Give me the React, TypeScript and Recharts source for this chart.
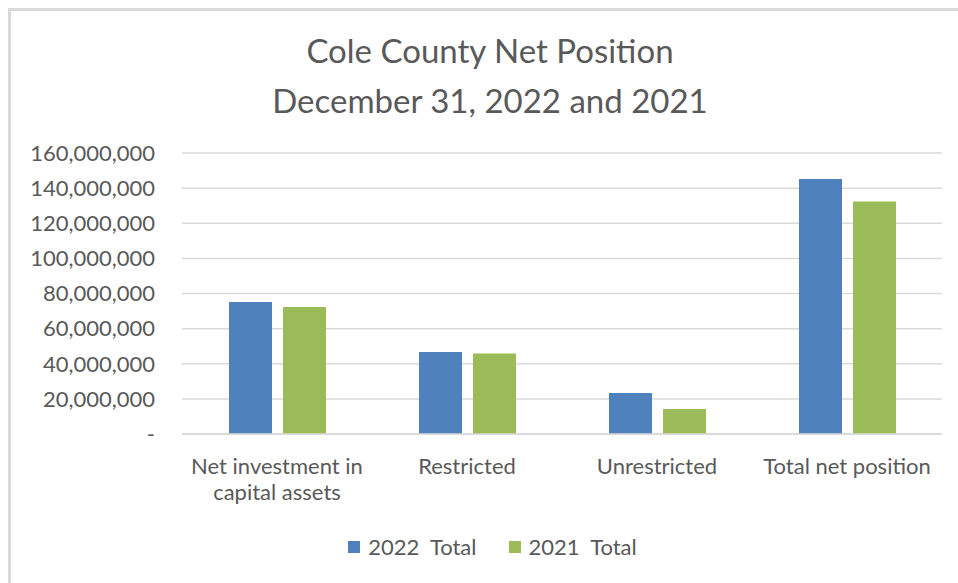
import { BarChart, Bar, XAxis, YAxis, CartesianGrid, Legend } from 'recharts';

// Values (dollars).
const CATEGORIES = [
  'Net investment in capital assets',
  'Restricted',
  'Unrestricted',
  'Total net position',
];
const TOTAL_2022 = [75200000, 46700000, 23300000, 145200000];
const TOTAL_2021 = [72300000, 45800000, 14300000, 132400000];
const Y_TICKS = [0, 20000000, 40000000, 60000000, 80000000, 100000000, 120000000, 140000000, 160000000];

const SERIES = [
  { key: '2022 Total', values: TOTAL_2022, color: '#4f81bd' },
  { key: '2021 Total', values: TOTAL_2021, color: '#9bbb59' },
];

const data = CATEGORIES.map((name, i) => {
  const row: Record<string, string | number> = { name };
  SERIES.forEach((s) => { row[s.key] = s.values[i]; });
  return row;
});

const FONT = 'Lato, "Open Sans", sans-serif';
const TEXT = '#595959';
const GRID = '#d9d9d9';
const W = 947;
const H = 572;

// no scrollbars: the frame runs right up to the edges of the window
document.documentElement.style.overflow = 'hidden';
document.body.style.margin = '0';

function wrap(label: string, max = 18): string[] {
  const lines: string[] = [];
  let cur = '';
  for (const w of label.split(' ')) {
    const next = cur ? cur + ' ' + w : w;
    if (next.length > max && cur) {
      lines.push(cur);
      cur = w;
    } else {
      cur = next;
    }
  }
  if (cur) lines.push(cur);
  return lines;
}

function CategoryTick({ x, y, payload }: any) {
  const lines = wrap(String(payload.value));
  return (
    <text x={x} y={y + 32} textAnchor="middle" fill={TEXT} fontSize={22} fontFamily={FONT}>
      {lines.map((l, i) => (
        <tspan key={i} x={x} dy={i === 0 ? 0 : 26}>{l}</tspan>
      ))}
    </text>
  );
}

function LegendBox() {
  return (
    <div style={{ display: 'flex', justifyContent: 'center', gap: 32, fontFamily: FONT, fontSize: 22, color: TEXT, marginLeft: 16 }}>
      {SERIES.map((s) => (
        <div key={s.key} style={{ display: 'flex', alignItems: 'center' }}>
          <span style={{ width: 12, height: 12, background: s.color, display: 'inline-block', marginRight: 8 }} />
          <span style={{ whiteSpace: 'pre' }}>{s.key.replace(' ', '  ')}</span>
        </div>
      ))}
    </div>
  );
}

export default function App() {
  return (
    <div style={{ position: 'relative', width: W, height: H, marginLeft: 8, marginTop: 8, borderLeft: `3px solid ${GRID}`, borderTop: `3px solid ${GRID}`, background: '#fff', overflow: 'hidden' }}>
      <div style={{ position: 'absolute', top: 14, left: 0, width: 958, textAlign: 'center', fontFamily: FONT, fontSize: 33, lineHeight: '50px', color: TEXT }}>
        <div>Cole County Net Position</div>
        <div>December 31, 2022 and 2021</div>
      </div>
      <BarChart
        width={W}
        height={H}
        data={data}
        margin={{ top: 142, right: 16, bottom: 39, left: 0 }}
        barGap={11}
        barSize={43}
      >
        <CartesianGrid vertical={false} stroke={GRID} strokeWidth={1.5} />
        <XAxis
          dataKey="name"
          tick={<CategoryTick />}
          tickLine={false}
          axisLine={{ stroke: GRID, strokeWidth: 1.5 }}
          height={80}
          interval={0}
        />
        <YAxis
          width={171}
          domain={[0, 160000000]}
          ticks={Y_TICKS}
          tickFormatter={(v: number) => (v === 0 ? '-' : v.toLocaleString('en-US'))}
          tick={{ fill: TEXT, fontSize: 22, fontFamily: FONT }}
          tickLine={false}
          axisLine={false}
          tickMargin={21}
        />
        <Legend
          content={<LegendBox />}
          wrapperStyle={{ position: 'absolute', top: 522, left: 0, width: W, height: 30 }}
        />
        {SERIES.map((s) => (
          <Bar key={s.key} dataKey={s.key} fill={s.color} isAnimationActive={false} />
        ))}
      </BarChart>
    </div>
  );
}
